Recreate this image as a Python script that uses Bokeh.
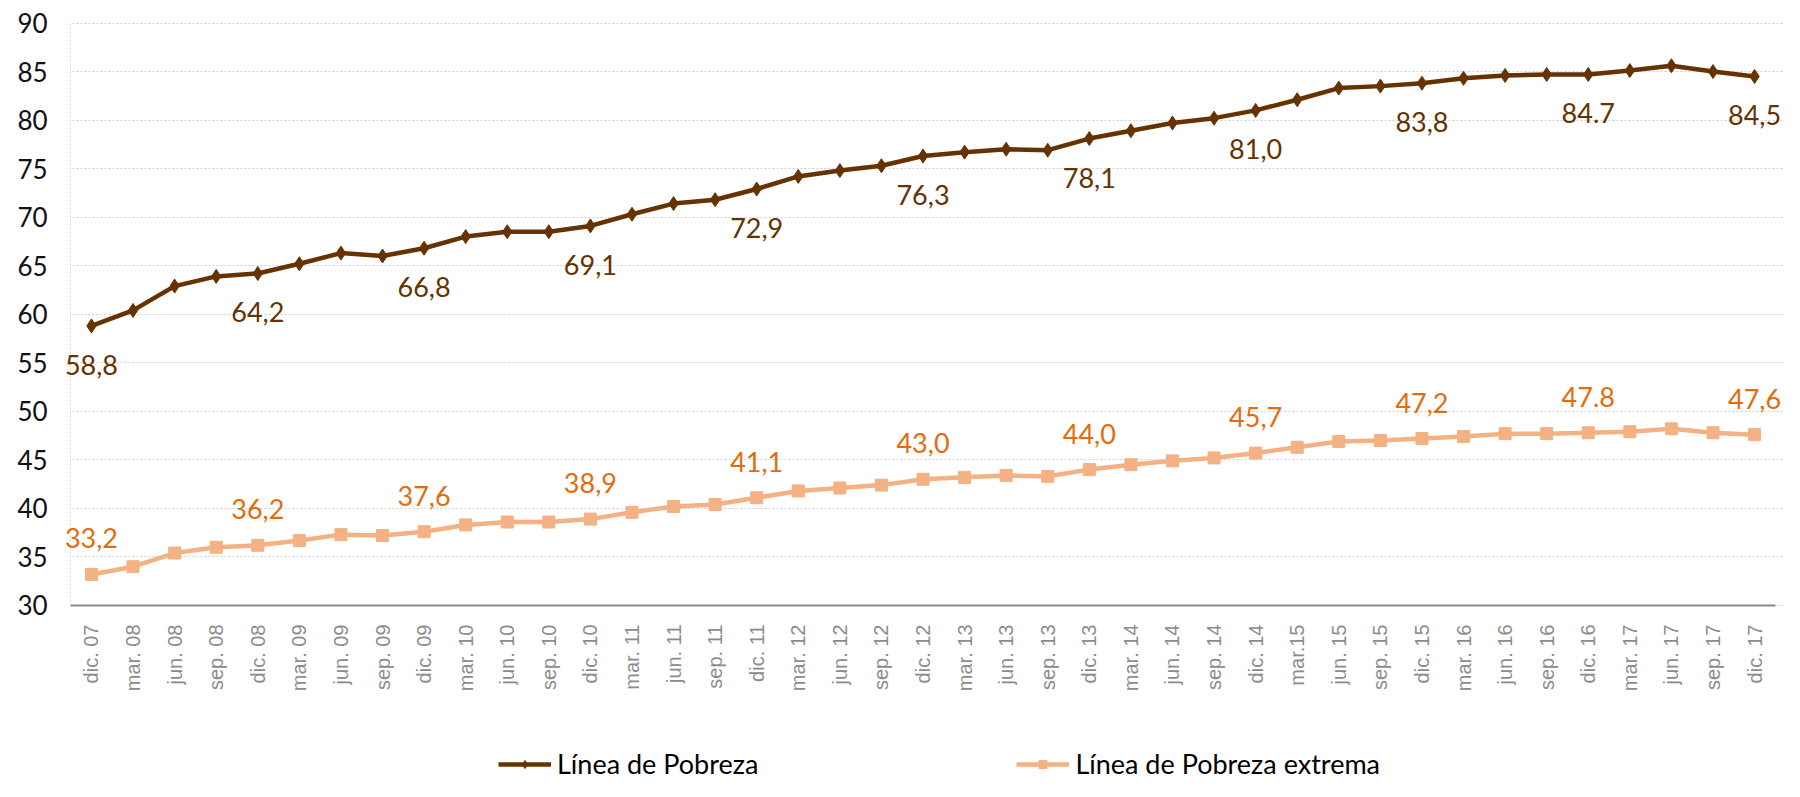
import math
from bokeh.plotting import figure
from bokeh.models import (ColumnDataSource, Range1d, FixedTicker, LabelSet,
                          Legend, LegendItem, BoxAnnotation)
from bokeh.core.properties import value
from bokeh.embed import file_html
from bokeh.resources import INLINE

categories = ["dic. 07", "mar. 08", "jun. 08", "sep. 08", "dic. 08", "mar. 09", "jun. 09", "sep. 09",
              "dic. 09", "mar. 10", "jun. 10", "sep. 10", "dic. 10", "mar. 11", "jun. 11", "sep. 11",
              "dic. 11", "mar. 12", "jun. 12", "sep. 12", "dic. 12", "mar. 13", "jun. 13", "sep. 13",
              "dic. 13", "mar. 14", "jun. 14", "sep. 14", "dic. 14", "mar.15", "jun. 15", "sep. 15",
              "dic. 15", "mar. 16", "jun. 16", "sep. 16", "dic. 16", "mar. 17", "jun. 17", "sep. 17",
              "dic. 17"]

pobreza = [58.8, 60.4, 62.9, 63.9, 64.2, 65.2, 66.3, 66.0, 66.8, 68.0, 68.5, 68.5, 69.1, 70.3,
           71.4, 71.8, 72.9, 74.2, 74.8, 75.3, 76.3, 76.7, 77.0, 76.9, 78.1, 78.9, 79.7, 80.2,
           81.0, 82.1, 83.3, 83.5, 83.8, 84.3, 84.6, 84.7, 84.7, 85.1, 85.6, 85.0, 84.5]

extrema = [33.2, 34.0, 35.4, 36.0, 36.2, 36.7, 37.3, 37.2, 37.6, 38.3, 38.6, 38.6, 38.9, 39.6,
           40.2, 40.4, 41.1, 41.8, 42.1, 42.4, 43.0, 43.2, 43.4, 43.3, 44.0, 44.5, 44.9, 45.2,
           45.7, 46.3, 46.9, 47.0, 47.2, 47.4, 47.7, 47.7, 47.8, 47.9, 48.2, 47.8, 47.6]

pobreza_labels = ["58,8", "64,2", "66,8", "69,1", "72,9", "76,3", "78,1", "81,0", "83,8", "84.7", "84,5"]
extrema_labels = ["33,2", "36,2", "37,6", "38,9", "41,1", "43,0", "44,0", "45,7", "47,2", "47.8", "47,6"]

y_ticks = [30, 35, 40, 45, 50, 55, 60, 65, 70, 75, 80, 85, 90]

BROWN = "#663300"
SALMON = "#F4B183"
ORANGE = "#E46C0A"

xs = list(range(len(categories)))
X_LO, X_HI = -0.5, len(categories) - 0.5   # outer edges of the category band

# the frame fills the whole figure; axes are pinned inside it
p = figure(x_range=Range1d(-2.188, 40.72), y_range=Range1d(11.87, 92.32),
           width=1784, height=781, output_backend="svg", toolbar_location=None, title=None,
           min_border_left=0, min_border_right=0, min_border_top=0, min_border_bottom=0)
p.outline_line_color = None
p.background_fill_color = "white"

src = ColumnDataSource(dict(x=xs, pob=pobreza, ext=extrema))
l1 = p.line("x", "pob", source=src, line_color=BROWN, line_width=4.5)
m1 = p.scatter("x", "pob", source=src, marker="diamond", size=14, fill_color=BROWN, line_color=BROWN)
l2 = p.line("x", "ext", source=src, line_color=SALMON, line_width=4.5)
m2 = p.scatter("x", "ext", source=src, marker="square", size=12, fill_color=SALMON, line_color=SALMON)

lab1 = ColumnDataSource(dict(x=xs[::4], y=pobreza[::4], t=pobreza_labels))
lab2 = ColumnDataSource(dict(x=xs[::4], y=extrema[::4], t=extrema_labels))
p.add_layout(LabelSet(x="x", y="y", text="t", source=lab1, y_offset=-39,
                      text_align="center", text_baseline="middle", text_font=value("Lato"),
                      text_font_size="27px", text_color=BROWN))
p.add_layout(LabelSet(x="x", y="y", text="t", source=lab2, y_offset=36,
                      text_align="center", text_baseline="middle", text_font=value("Lato"),
                      text_font_size="27px", text_color=ORANGE))

# grid (hidden outside the category band)
p.xgrid.grid_line_color = None
p.ygrid.ticker = FixedTicker(ticks=y_ticks)
p.ygrid.grid_line_color = "#cfcfcf"
p.ygrid.grid_line_dash = "2 2"
p.ygrid.grid_line_width = 1
p.add_layout(BoxAnnotation(right=X_LO, fill_color="white", fill_alpha=1, line_color=None,
                           level="underlay"))

# value axis
p.yaxis.ticker = FixedTicker(ticks=y_ticks)
p.yaxis.fixed_location = X_LO
p.yaxis.bounds = (30, 90)
p.yaxis.axis_line_color = "#d0d0d0"
p.yaxis.axis_line_dash = "2 2"
p.yaxis.major_tick_line_color = None
p.yaxis.major_tick_out = 0
p.yaxis.major_tick_in = 0
p.yaxis.minor_tick_line_color = None
p.yaxis.major_label_text_font = "Lato"
p.yaxis.major_label_text_font_size = "26px"
p.yaxis.major_label_text_color = "#111111"
p.yaxis.major_label_standoff = 23

# category axis
p.xaxis.ticker = FixedTicker(ticks=xs)
p.xaxis.major_label_overrides = {i: c for i, c in enumerate(categories)}
p.xaxis.fixed_location = 30
p.xaxis.bounds = (X_LO, X_HI)
p.xaxis.axis_line_color = "#8a8a8a"
p.xaxis.axis_line_width = 2
p.xaxis.major_tick_line_color = None
p.xaxis.major_tick_out = 0
p.xaxis.major_tick_in = 0
p.xaxis.minor_tick_line_color = None
p.xaxis.major_label_orientation = math.pi / 2
p.xaxis.major_label_text_font = "Liberation Sans"
p.xaxis.major_label_text_font_size = "20px"
p.xaxis.major_label_text_color = "#8c8c8c"
p.xaxis.major_label_standoff = 19

legend = Legend(items=[LegendItem(label="Línea de Pobreza", renderers=[l1, m1]),
                       LegendItem(label="Línea de Pobreza extrema", renderers=[l2, m2])],
                location=(498, 1), orientation="horizontal", spacing=258,
                glyph_width=53, glyph_height=20, label_standoff=6, padding=0, margin=0,
                border_line_color=None, background_fill_alpha=0,
                label_text_font="Lato", label_text_font_size="27px", label_text_color="#000000")
p.add_layout(legend, "center")

open("out.html", "w").write(file_html(p, INLINE))
